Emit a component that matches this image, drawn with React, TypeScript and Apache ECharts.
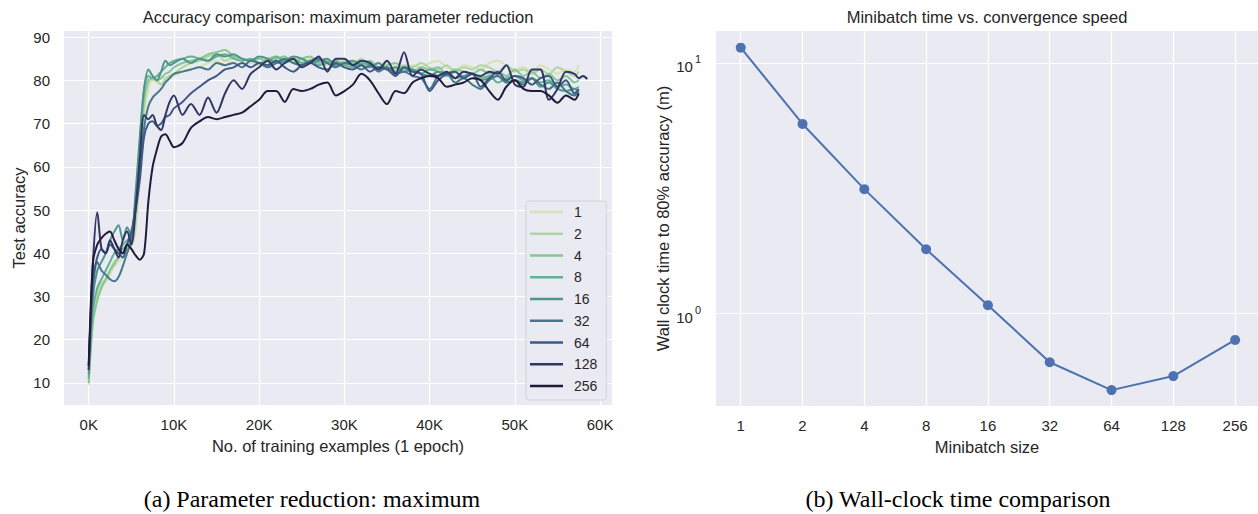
import React, { useEffect, useRef } from "react";
import * as echarts from "echarts";

// x positions (thousands of training examples)
const trainingK = [
  0, 0.5, 1, 1.5, 2, 2.5, 3, 3.5, 4, 4.5, 5, 5.5, 6, 6.5, 7, 7.5, 8, 8.5, 9, 9.5, 10,
  11, 12, 13, 14, 15, 16, 17, 18, 19, 20,
  21, 22, 23, 24, 25, 26, 27, 28, 29, 30,
  31, 32, 33, 34, 35, 36, 37, 38, 39, 40,
  41, 42, 43, 44, 45, 46, 47, 48, 49, 50,
  51, 52, 53, 54, 55, 56, 57,
  57.5, 58, 58.5,
];

const batchLabels = ["1", "2", "4", "8", "16", "32", "64", "128", "256"];

const acc1 = [
  9.5, 25, 30, 32, 33.5, 35, 37, 38, 39, 40, 41.5, 45, 58, 72, 78, 80, 79.5, 79, 80, 80.5, 81,
  82, 82.5, 83, 84, 84.5, 83.5, 85, 85, 84, 83.5,
  84, 84.5, 85, 84, 84.5, 85, 84, 83.5, 84.5, 84,
  83.5, 84.5, 84, 83, 84, 83.5, 82.5, 83.5, 83, 84,
  84.5, 83, 82.5, 83.5, 83, 82.5, 84, 84.5, 83.5, 82.5,
  83, 82, 83.5, 82.5, 81.5, 82.5, 82,
  83.5, null, null,
];
const acc2 = [
  11, 26, 31, 33, 34, 36, 38, 39, 40, 41, 42, 47, 60, 74, 79.5, 80.5, 80, 79, 80.5, 81, 81.5,
  83, 84, 84.5, 85.5, 86, 84.5, 85.5, 85, 84.5, 84,
  85, 85.5, 84, 84.5, 85, 84, 85, 84, 83.5, 84.5,
  84, 85, 83.5, 84, 83, 82.5, 83.5, 83, 84, 83,
  82.5, 83.5, 82, 83, 82.5, 83.5, 83, 82, 83.5, 82,
  82.5, 81.5, 82.5, 81.5, 83, 82, 81,
  82, null, null,
];
const acc4 = [
  10, 24, 29, 32, 34, 36, 37.5, 39, 41, 42, 43, 50, 63, 76, 80, 80.5, 80, 80.5, 81.5, 82, 83,
  84, 84.5, 85, 86, 86.5, 87, 85.5, 85, 84.5, 85,
  84.5, 85, 85.5, 84, 85, 85.5, 84, 84.5, 84, 83.5,
  84, 83.5, 84.5, 83, 83.5, 84, 82.5, 82, 83, 82.5,
  83, 81.5, 82.5, 82, 81.5, 82.5, 81.5, 82, 81, 82.5,
  81, 82, 80.5, 81.5, 80, 81, 79.5,
  80, null, null,
];
const acc8 = [
  11, 27, 32, 34, 36, 38, 40, 41, 42, 43, 44, 52, 66, 78, 81, 80.5, 81, 82, 83, 84, 84.5,
  85, 85.5, 85, 84.5, 85.5, 86, 85, 84.5, 85, 84,
  84.5, 85.5, 84.5, 85, 84, 84.5, 83.5, 84, 84.5, 83.5,
  83, 84, 83.5, 82.5, 83, 82, 83, 82.5, 81.5, 82.5,
  82, 81, 82, 80.5, 81.5, 80.5, 81, 79.5, 80.5, 81,
  80, 80.5, 79.5, 80, 78.5, 79, 78,
  78.5, null, null,
];
const acc16 = [
  12, 30, 36, 38, 40, 43, 45, 46.5, 43, 46, 44, 54, 67, 78, 82.5, 81, 80, 82, 84.5, 83.5, 84,
  85, 84, 85, 84.5, 86, 85.5, 86, 85, 84.5, 85.5,
  85, 84, 84.5, 85.5, 85, 84, 84.5, 85, 83.5, 84,
  84.5, 83.5, 83, 84, 82.5, 83, 82, 82.5, 81.5, 81,
  82, 81.5, 80.5, 81, 81.5, 80, 80.5, 81, 79.5, 80,
  79.5, 80.5, 78.5, 79.5, 78, 77.5, 78,
  77.5, null, null,
];
const acc32 = [
  13, 32, 38, 36, 35, 34, 33.5, 34.5, 37, 40, 43, 52, 60, 69, 74, 76, 77, 78, 79.5, 80.5, 81.5,
  82, 82.5, 83, 82.5, 84, 83.5, 84, 83, 84.5, 84,
  83, 84, 85, 84, 83.5, 84.5, 85, 84, 83, 84,
  83.5, 82.5, 83.5, 82, 83, 81.5, 82, 81, 80.5, 78,
  81, 81.5, 79.5, 80.5, 79, 78, 80, 81, 79.5, 80,
  79, 80.5, 79, 78, 79.5, 77.5, 76.5,
  77.5, null, null,
];
const acc64 = [
  14, 34, 39, 41, 40, 42, 41, 40, 39, 42, 45, 50, 57, 67, 70, 70.5, 69.5, 70, 71.5, 72, 73.5,
  75, 77, 78.5, 80, 81, 82.5, 83, 84, 83, 84,
  83.5, 84.5, 83, 82, 83.5, 84, 83, 82.5, 84, 83,
  82.5, 83.5, 82, 83, 82.5, 81, 83, 82, 81.5, 77.5,
  80, 81.5, 82, 80.5, 81.5, 78.5, 80.5, 82, 80, 81,
  80.5, 79, 80.5, 81, 78.5, 80, 77,
  78, null, null,
];
const acc128 = [
  13, 38, 49.5, 41, 40, 43, 41, 39, 43, 45, 42, 50, 62, 72, 71, 72, 69.5, 68.5, 72, 75, 76.5,
  72, 74.5, 72, 76, 72.5, 77, 80, 78, 81.5, 83,
  84.5, 82.5, 84, 85, 83, 84, 85.5, 82, 85, 85,
  83.5, 84.5, 84, 82.5, 84.5, 81.5, 86.5, 81, 82.5, 81.5,
  81, 82, 80.5, 82, 81.5, 81, 82, 81.5, 83.5, 79,
  78.5, 82.5, 82.5, 75.5, 78, 82, 81.5,
  80.5, 81, 80.3,
];
const acc256 = [
  14, 38, 42, 43.5, 44.5, 45, 43, 41, 40, 42, 41, 39.5, 38.5, 40, 52, 60, 64, 67, 67.5, 66, 64.5,
  65.5, 69, 70.5, 71.5, 71, 71.5, 72, 72.5, 74, 75.5,
  77.5, 77.5, 75, 78, 77.5, 78, 79, 79.5, 76.5, 77.5,
  79, 81.5, 80, 77, 74.5, 77.5, 77, 79.5, 80.5, 81,
  80.5, 78.5, 79, 79.5, 80.5, 80, 77.5, 75.5, 78.5, 80,
  78, 77.5, 77.5, 76.5, 74.8, 76.5, 75.5,
  77, null, null,
];

const accuracySeries = [acc1, acc2, acc4, acc8, acc16, acc32, acc64, acc128, acc256];
const lineColors = [
  "#d5e3b5", "#afd6a1", "#88c692", "#66b193", "#4e968c",
  "#467889", "#3d5a85", "#303663", "#221a3a",
];

const minibatchSizes = [1, 2, 4, 8, 16, 32, 64, 128, 256];
const wallClockMinutes = [11.5, 5.7, 3.13, 1.8, 1.077, 0.637, 0.493, 0.561, 0.782];

const TXT = "#262626";
const FONT = "Liberation Sans, Arial, sans-serif";
const SERIF = "Liberation Serif, Times New Roman, serif";

export default function App() {
  const ref = useRef<HTMLDivElement>(null);

  useEffect(() => {
    const chart = echarts.init(ref.current as HTMLDivElement, null, { renderer: "svg" });

    const splitLine = {
      show: true,
      showMinLine: false,
      showMaxLine: false,
      lineStyle: { color: "#ffffff", width: 1.2 },
    };
    const isMultiple = (v: number, m: number) => Math.abs(v / m - Math.round(v / m)) < 1e-6;
    const isPow = (v: number, b: number) => {
      const l = Math.log(v) / Math.log(b);
      return Math.abs(l - Math.round(l)) < 1e-6;
    };

    const leftSeries = accuracySeries.map((arr, si) => ({
      name: batchLabels[si],
      type: "line",
      xAxisIndex: 0,
      yAxisIndex: 0,
      symbol: "none",
      smooth: 0.3,
      z: 2 + si,
      lineStyle: { color: lineColors[si], width: 2 },
      itemStyle: { color: lineColors[si] },
      data: trainingK
        .map((x, i) => [x, arr[i]])
        .filter((d) => d[1] !== null && d[1] !== undefined),
    }));

    const option: any = {
      animation: false,
      backgroundColor: "#ffffff",
      textStyle: { fontFamily: FONT, color: TXT },
      grid: [
        { left: 64, top: 31, width: 548, height: 374, show: true, backgroundColor: "#eaeaf2", borderWidth: 0 },
        { left: 716, top: 31, width: 542, height: 375, show: true, backgroundColor: "#eaeaf2", borderWidth: 0 },
      ],
      xAxis: [
        {
          type: "value",
          gridIndex: 0,
          min: -2.9,
          max: 61.4,
          minInterval: 10,
          maxInterval: 10,
          axisLine: { show: false },
          axisTick: { show: false },
          splitLine,
          axisLabel: {
            color: TXT,
            fontSize: 15,
            fontFamily: FONT,
            margin: 12,
            formatter: (v: number) => (isMultiple(v, 10) ? `${Math.round(v)}K` : ""),
          },
          name: "No. of training examples (1 epoch)",
          nameLocation: "middle",
          nameGap: 32,
          nameTextStyle: { color: TXT, fontSize: 16.5, fontFamily: FONT },
        },
        {
          type: "log",
          logBase: 2,
          gridIndex: 1,
          min: Math.pow(2, -0.4),
          max: Math.pow(2, 8.37),
          axisLine: { show: false },
          axisTick: { show: false },
          splitLine,
          axisLabel: {
            color: TXT,
            fontSize: 15,
            fontFamily: FONT,
            margin: 12,
            showMinLabel: false,
            showMaxLabel: false,
            formatter: (v: number) => (isPow(v, 2) ? String(Math.round(v)) : ""),
          },
          name: "Minibatch size",
          nameLocation: "middle",
          nameGap: 32,
          nameTextStyle: { color: TXT, fontSize: 16.5, fontFamily: FONT },
        },
      ],
      yAxis: [
        {
          type: "value",
          gridIndex: 0,
          min: 4.9,
          max: 91.4,
          minInterval: 10,
          maxInterval: 10,
          axisLine: { show: false },
          axisTick: { show: false },
          splitLine,
          axisLabel: {
            color: TXT,
            fontSize: 15,
            fontFamily: FONT,
            margin: 14,
            formatter: (v: number) => (isMultiple(v, 10) ? String(Math.round(v)) : ""),
          },
          name: "Test accuracy",
          nameLocation: "middle",
          nameGap: 37,
          nameTextStyle: { color: TXT, fontSize: 16.5, fontFamily: FONT },
        },
        {
          type: "log",
          logBase: 10,
          gridIndex: 1,
          min: 0.426,
          max: 13.4,
          axisLine: { show: false },
          axisTick: { show: false },
          splitLine,
          axisLabel: {
            color: TXT,
            fontSize: 15,
            fontFamily: FONT,
            margin: 15,
            lineHeight: 26,
            padding: [8, 0, 0, 0],
            showMinLabel: false,
            showMaxLabel: false,
            formatter: (v: number) =>
              isPow(v, 10) ? `10{sup|${Math.round(Math.log10(v))}}` : "",
            rich: {
              sup: { fontSize: 11, lineHeight: 11, verticalAlign: "top", color: TXT, fontFamily: FONT, padding: [0, 0, 0, 2] },
            },
          },
          name: "Wall clock time to 80% accuracy (m)",
          nameLocation: "middle",
          nameGap: 45,
          nameTextStyle: { color: TXT, fontSize: 16.5, fontFamily: FONT },
        },
      ],
      legend: {
        data: batchLabels.map((n) => ({ name: n, icon: "path://M0 0H33V2.5H0Z" })),
        orient: "vertical",
        left: 526,
        top: 201,
        itemWidth: 33,
        itemHeight: 14,
        itemGap: 7.75,
        padding: [4, 9, 7, 4],
        backgroundColor: "#eaeaf2",
        borderColor: "#d2d2d8",
        borderWidth: 1,
        borderRadius: 3,
        textStyle: { color: TXT, fontSize: 14, fontFamily: FONT, lineHeight: 14, padding: [0, 0, 0, 6] },
      },
      series: [
        ...leftSeries,
        {
          name: "wallclock",
          type: "line",
          xAxisIndex: 1,
          yAxisIndex: 1,
          symbol: "circle",
          symbolSize: 10,
          lineStyle: { color: "#4c72b0", width: 2 },
          itemStyle: { color: "#4c72b0" },
          data: minibatchSizes.map((x, i) => [x, wallClockMinutes[i]]),
        },
      ],
      graphic: [
        {
          type: "text",
          x: 338,
          y: 16.5,
          style: {
            text: "Accuracy comparison: maximum parameter reduction",
            fill: TXT,
            font: `16.5px ${FONT}`,
            textAlign: "center",
            textVerticalAlign: "middle",
          },
        },
        {
          type: "text",
          x: 987,
          y: 16.5,
          style: {
            text: "Minibatch time vs. convergence speed",
            fill: TXT,
            font: `16.5px ${FONT}`,
            textAlign: "center",
            textVerticalAlign: "middle",
          },
        },
        {
          type: "text",
          x: 312,
          y: 499,
          style: {
            text: "(a) Parameter reduction: maximum",
            fill: "#000000",
            font: `24px ${SERIF}`,
            textAlign: "center",
            textVerticalAlign: "middle",
          },
        },
        {
          type: "text",
          x: 958,
          y: 499,
          style: {
            text: "(b) Wall-clock time comparison",
            fill: "#000000",
            font: `24px ${SERIF}`,
            textAlign: "center",
            textVerticalAlign: "middle",
          },
        },
      ],
    };

    chart.setOption(option);
    return () => chart.dispose();
  }, []);

  return (
    <div
      ref={ref}
      style={{ position: "fixed", left: 0, top: 0, width: 1258, height: 514, background: "#ffffff" }}
    />
  );
}
